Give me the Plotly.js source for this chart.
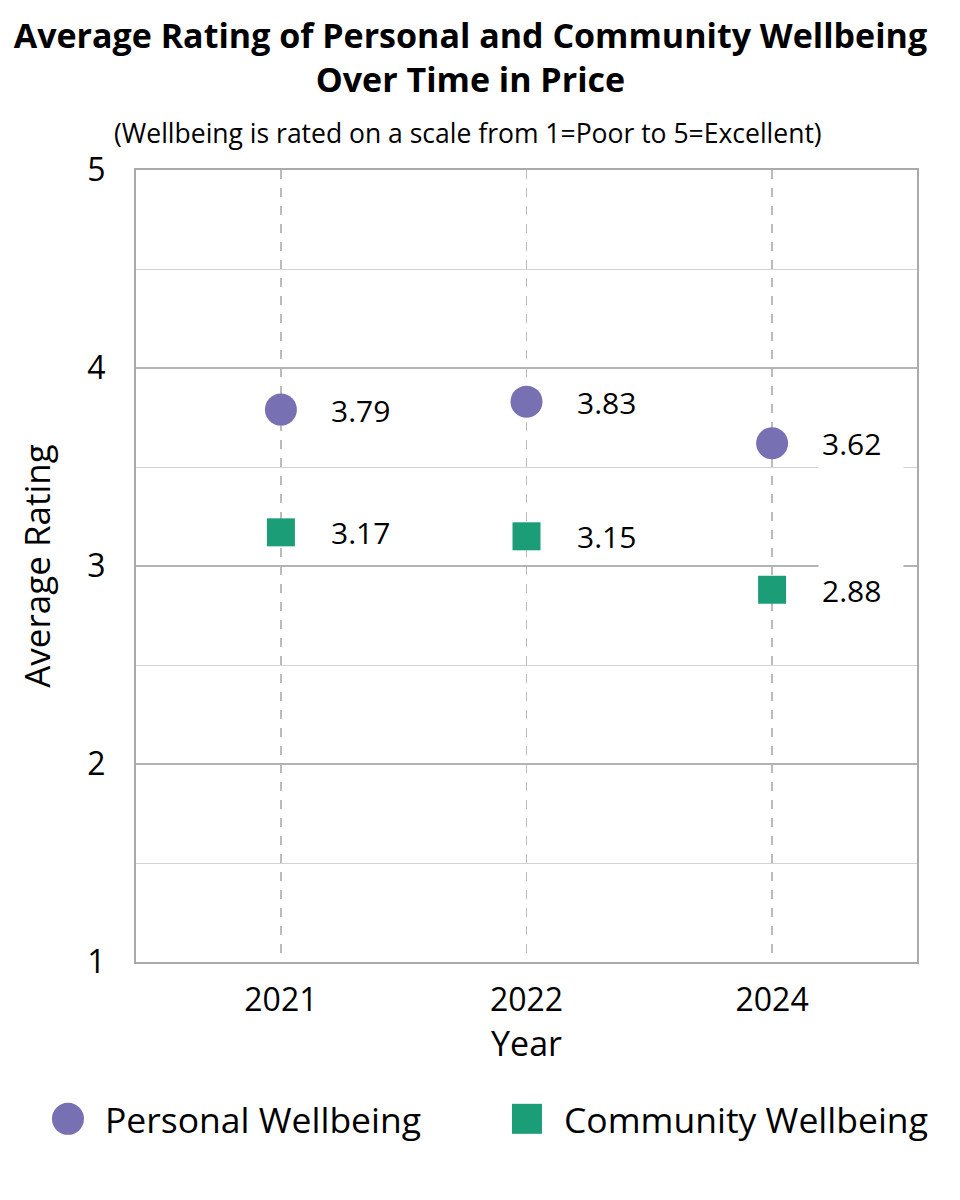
<!DOCTYPE html>
<html lang="en">
<head>
  <meta charset="UTF-8">
  <title>Wellbeing Over Time</title>
  <script src="https://cdn.plot.ly/plotly-3.0.1.min.js" charset="utf-8"></script>
  <style>
    body { margin: 0; background: #fff; }
    #chart { width: 960px; height: 1200px; }
  </style>
</head>
<body>
  <div id="chart"></div>
  <script>
    // data
    var years = ['2021', '2022', '2024'];
    var personal = [3.79, 3.83, 3.62];
    var community = [3.17, 3.15, 2.88];
    var seriesNames = ['Personal Wellbeing', 'Community Wellbeing'];
    var colors = ['#7771b4', '#1b9e77'];

    var FONT = '"Open Sans", sans-serif';

    var tracePersonal = {
      x: years, y: personal, name: seriesNames[0],
      type: 'scatter', mode: 'markers', cliponaxis: false,
      marker: {symbol: 'circle', size: 32, color: colors[0]}
    };
    var traceCommunity = {
      x: years, y: community, name: seriesNames[1],
      type: 'scatter', mode: 'markers', cliponaxis: false,
      marker: {symbol: 'square', size: 28, color: colors[1]}
    };

    // value labels to the right of each point, white box behind
    var labels = [];
    [personal, community].forEach(function (vals) {
      vals.forEach(function (v, i) {
        labels.push({
          x: i, y: v, xref: 'x', yref: 'y',
          text: v.toFixed(2), showarrow: false,
          xanchor: 'left', xshift: 46, align: 'left',
          width: 78, height: 46,
          bgcolor: '#fff', borderpad: 3,
          font: {family: FONT, size: 30, color: '#000'}
        });
      });
    });
    labels.push({
      xref: 'paper', yref: 'paper', x: 0.425, y: 1, yshift: 37,
      xanchor: 'center', yanchor: 'middle', showarrow: false,
      text: '(Wellbeing is rated on a scale from 1=Poor to 5=Excellent)',
      font: {family: FONT, size: 26.5, color: '#000'}
    });

    // legend drawn by hand so the symbols keep their size
    var legendX = [-0.0871, 0.5006];
    var legendY = -0.198;
    var shapes = [];
    seriesNames.forEach(function (name, k) {
      var half = k === 0 ? 16 : 15;
      shapes.push({
        type: k === 0 ? 'circle' : 'rect',
        xref: 'paper', yref: 'paper',
        xsizemode: 'pixel', ysizemode: 'pixel',
        xanchor: legendX[k], yanchor: legendY,
        x0: -half, x1: half, y0: -half, y1: half,
        fillcolor: colors[k], line: {width: 0}
      });
      labels.push({
        xref: 'paper', yref: 'paper', x: legendX[k], y: legendY,
        xshift: 35, xanchor: 'left', yanchor: 'middle', showarrow: false,
        text: name, font: {family: FONT, size: 35.5, color: '#000'}
      });
    });

    var layout = {
      width: 960, height: 1200,
      margin: {l: 136, r: 43, t: 170, b: 238},
      paper_bgcolor: '#fff', plot_bgcolor: '#fff',
      font: {family: FONT, color: '#000'},
      title: {
        text: '<b>Average Rating of Personal and Community Wellbeing<br>Over Time in Price</b>',
        font: {family: FONT, size: 34, color: '#000'},
        x: 0.49, xanchor: 'center', yref: 'container', y: 0.96, yanchor: 'middle'
      },
      xaxis: {
        type: 'category', range: [-0.59, 2.59],
        showgrid: true, gridcolor: '#bbbbbb', griddash: 'dash', gridwidth: 1.5,
        showline: true, linecolor: '#aaaaaa', linewidth: 2, mirror: true,
        ticks: '', tickfont: {size: 32}, ticklabelstandoff: 9,
        title: {text: 'Year', font: {size: 34}, standoff: 0},
        zeroline: false, fixedrange: true
      },
      yaxis: {
        range: [1, 5], dtick: 1, tick0: 1,
        showgrid: true, gridcolor: '#b3b3b3', gridwidth: 1.3,
        minor: {dtick: 0.5, showgrid: true, gridcolor: '#d3d3d3', gridwidth: 1},
        showline: true, linecolor: '#aaaaaa', linewidth: 2, mirror: true,
        ticks: '', tickfont: {size: 32}, ticklabelstandoff: 22,
        title: {text: 'Average Rating', font: {size: 35}, standoff: 26},
        zeroline: false, fixedrange: true
      },
      showlegend: false,
      shapes: shapes,
      annotations: labels
    };

    Plotly.newPlot('chart', [tracePersonal, traceCommunity], layout, {displayModeBar: false, staticPlot: true});
  </script>
</body>
</html>
